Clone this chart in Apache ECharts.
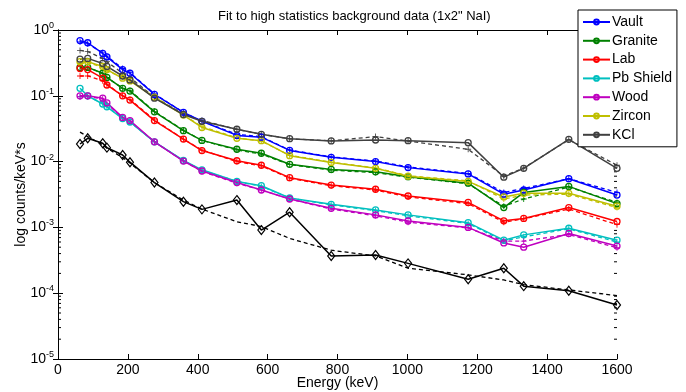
<!DOCTYPE html>
<html><head><meta charset="utf-8">
<script src="https://cdn.jsdelivr.net/npm/echarts@6/dist/echarts.min.js"></script>
<style>html,body{margin:0;padding:0;background:#fff}#c{width:686px;height:392px}</style>
</head><body><div id="c"></div>
<script>
const energies = [63, 85, 128, 140, 185, 206, 276, 359, 412, 512, 582, 663, 782, 909, 1002, 1174, 1276, 1333, 1462, 1600];

const vault      = [0.69, 0.64, 0.44, 0.39, 0.25, 0.22, 0.105, 0.056, 0.041, 0.025, 0.0235, 0.0148, 0.0116, 0.0100, 0.0081, 0.0065, 0.0032, 0.0037, 0.0055, 0.0031];
const vaultFit   = [0.66, 0.62, 0.45, 0.40, 0.26, 0.225, 0.107, 0.056, 0.041, 0.026, 0.024, 0.0150, 0.0118, 0.0102, 0.0083, 0.0066, 0.0034, 0.0039, 0.0055, 0.0034];
const granite    = [0.27, 0.27, 0.22, 0.19, 0.13, 0.118, 0.057, 0.0295, 0.021, 0.0154, 0.0134, 0.0091, 0.0076, 0.0070, 0.0059, 0.0047, 0.0020, 0.0034, 0.0042, 0.0023];
const graniteFit = [0.28, 0.27, 0.22, 0.19, 0.13, 0.12, 0.058, 0.030, 0.021, 0.0150, 0.0130, 0.0090, 0.0074, 0.0068, 0.0058, 0.0046, 0.0021, 0.0027, 0.0041, 0.0024];
const lab        = [0.26, 0.25, 0.185, 0.146, 0.10, 0.086, 0.042, 0.022, 0.0147, 0.0103, 0.0088, 0.0057, 0.0044, 0.0038, 0.0030, 0.0024, 0.00126, 0.00137, 0.0020, 0.00123];
const labFit     = [0.20, 0.20, 0.17, 0.15, 0.10, 0.088, 0.043, 0.022, 0.015, 0.0100, 0.0086, 0.0056, 0.0043, 0.0037, 0.0029, 0.0023, 0.0012, 0.00135, 0.0019, 0.0011];
const pbShield   = [0.13, 0.10, 0.075, 0.068, 0.045, 0.040, 0.020, 0.0104, 0.0075, 0.0050, 0.0043, 0.0028, 0.00224, 0.00184, 0.00155, 0.00118, 0.00064, 0.00077, 0.00097, 0.00064];
const pbShieldFit= [0.097, 0.097, 0.078, 0.068, 0.046, 0.040, 0.020, 0.0103, 0.0074, 0.0050, 0.0042, 0.0028, 0.0022, 0.0018, 0.0015, 0.00115, 0.00062, 0.00072, 0.00095, 0.00060];
const wood       = [0.10, 0.10, 0.092, 0.078, 0.047, 0.042, 0.020, 0.0102, 0.0072, 0.0048, 0.0037, 0.0027, 0.00195, 0.00155, 0.00125, 0.0010, 0.00058, 0.00050, 0.00081, 0.00052];
const woodFit    = [0.097, 0.097, 0.090, 0.076, 0.046, 0.041, 0.020, 0.0102, 0.0071, 0.0047, 0.0037, 0.0027, 0.0019, 0.0015, 0.0012, 0.00098, 0.00062, 0.00062, 0.00078, 0.00049];
const zircon     = [0.33, 0.33, 0.28, 0.25, 0.185, 0.168, 0.095, 0.051, 0.033, 0.0226, 0.0208, 0.0123, 0.0097, 0.0079, 0.0060, 0.0050, 0.0029, 0.0033, 0.0033, 0.0021];
const zirconFit  = [0.31, 0.32, 0.27, 0.24, 0.19, 0.17, 0.098, 0.051, 0.034, 0.023, 0.0205, 0.0125, 0.0098, 0.0080, 0.0061, 0.0051, 0.0027, 0.0031, 0.0032, 0.0020];
const kcl        = [0.36, 0.37, 0.31, 0.28, 0.20, 0.174, 0.092, 0.052, 0.041, 0.031, 0.026, 0.0223, 0.0206, 0.0213, 0.0208, 0.0194, 0.0058, 0.0079, 0.0218, 0.0079];
const kclFit     = [0.49, 0.47, 0.37, 0.33, 0.22, 0.19, 0.095, 0.053, 0.042, 0.031, 0.026, 0.0222, 0.0207, 0.024, 0.0205, 0.0154, 0.0060, 0.0080, 0.0215, 0.0088];
const blank      = [0.0185, 0.0226, 0.019, 0.0163, 0.0126, 0.0098, 0.0048, 0.00246, 0.00188, 0.0026, 0.00091, 0.0017, 0.000367, 0.00038, 0.000284, 0.000163, 0.00024, 0.000128, 0.000109, 0.000066];
const blankFit   = [0.028, 0.024, 0.018, 0.016, 0.0115, 0.0095, 0.0048, 0.0026, 0.0019, 0.00122, 0.00103, 0.00068, 0.00045, 0.00037, 0.00024, 0.00019, 0.000159, 0.000135, 0.000112, 0.000092];

const seriesNames = ['Vault', 'Granite', 'Lab', 'Pb Shield', 'Wood', 'Zircon', 'KCl'];
const xTickValues = [0, 200, 400, 600, 800, 1000, 1200, 1400, 1600];
const minorTickValues = [
  2e-5,3e-5,4e-5,5e-5,6e-5,7e-5,8e-5,9e-5,
  2e-4,3e-4,4e-4,5e-4,6e-4,7e-4,8e-4,9e-4,
  2e-3,3e-3,4e-3,5e-3,6e-3,7e-3,8e-3,9e-3,
  2e-2,3e-2,4e-2,5e-2,6e-2,7e-2,8e-2,9e-2,
  2e-1,3e-1,4e-1,5e-1,6e-1,7e-1,8e-1,9e-1];

const colors = ['#0000ff', '#008000', '#ff0000', '#00bfbf', '#bf00bf', '#bfbf00', '#404040'];
const dataSets = [vault, granite, lab, pbShield, wood, zircon, kcl];
const fitSets = [vaultFit, graniteFit, labFit, pbShieldFit, woodFit, zirconFit, kclFit];
const plusPath = 'path://M4.3,0H5.7V4.3H10V5.7H5.7V10H4.3V5.7H0V4.3H4.3Z';
const FONT = 'Liberation Sans, Arial, sans-serif';

function pairs(arr) { return energies.map((e, i) => [e, arr[i]]); }

const series = [];
series.push({
  name: 'minor', type: 'custom', xAxisIndex: 0, yAxisIndex: 0, silent: true, z: 1,
  data: minorTickValues.map(v => [0, v]),
  renderItem: function (params, api) {
    const v = api.value(1);
    const l = api.coord([0, v]);
    const r = api.coord([1600, v]);
    return { type: 'group', children: [
      { type: 'line', shape: { x1: l[0], y1: l[1], x2: l[0] + 3, y2: l[1] }, style: { stroke: '#000', lineWidth: 1 } },
      { type: 'line', shape: { x1: r[0], y1: r[1], x2: r[0] - 3, y2: r[1] }, style: { stroke: '#000', lineWidth: 1 } }
    ]};
  }
});
fitSets.forEach((f, i) => {
  series.push({
    name: seriesNames[i] + ' fit', type: 'line', data: pairs(f),
    symbol: plusPath, symbolSize: 6, showSymbol: true, z: 2,
    lineStyle: { color: colors[i], width: 1.3, type: [4, 3] },
    itemStyle: { color: colors[i] }, silent: true
  });
});
dataSets.forEach((d, i) => {
  series.push({
    name: seriesNames[i], type: 'line', data: pairs(d),
    symbol: 'circle', symbolSize: 6, showSymbol: true, z: 3,
    lineStyle: { color: colors[i], width: 1.5 },
    itemStyle: { color: 'rgba(255,255,255,0)', borderColor: colors[i], borderWidth: 1.3 }, silent: true
  });
});
series.push({
  name: 'blank fit', type: 'line', data: pairs(blankFit), showSymbol: false, symbol: 'none', z: 4,
  lineStyle: { color: '#000', width: 1.3, type: [4, 3] }, silent: true
});
series.push({
  name: 'blank', type: 'line', data: pairs(blank), symbol: 'diamond', symbolSize: [7, 9], showSymbol: true, z: 5,
  lineStyle: { color: '#000', width: 1.5 },
  itemStyle: { color: 'rgba(255,255,255,0)', borderColor: '#000', borderWidth: 1.2 }, silent: true
});

const axisLineStyle = { show: true, lineStyle: { color: '#000', width: 1 } };
const xBase = { type: 'value', min: 0, max: 1600, interval: 200, splitLine: { show: false },
  axisLine: axisLineStyle, axisTick: { inside: true, length: 5, lineStyle: { color: '#000' } } };
const yBase = { type: 'log', logBase: 10, min: 1e-5, max: 1, interval: 1, splitLine: { show: false },
  axisLine: axisLineStyle, axisTick: { inside: true, length: 5, lineStyle: { color: '#000' } } };

const chart = echarts.init(document.getElementById('c'), null, { renderer: 'canvas' });
chart.setOption({
  animation: false,
  backgroundColor: '#fff',
  title: { text: 'Fit to high statistics background data (1x2" NaI)', left: 213, top: 5,
    textStyle: { fontFamily: FONT, fontSize: 13, fontWeight: 'normal', color: '#000' } },
  legend: {
    data: seriesNames, orient: 'vertical', left: 578, top: 10, z: 50,
    itemWidth: 27, itemHeight: 6, itemGap: 4.8, padding: [5, 5, 5, 4],
    backgroundColor: '#fff', borderColor: '#000', borderWidth: 1,
    textStyle: { fontFamily: FONT, fontSize: 14, color: '#000', padding: [0, 0, 0, -3] },
    selectedMode: false
  },
  grid: { left: 58, right: 69, top: 30, bottom: 33, containLabel: false, outerBoundsMode: 'none' },
  xAxis: [
    Object.assign({}, xBase, { position: 'bottom', name: 'Energy (keV)', nameLocation: 'middle', nameGap: 17,
      nameMoveOverlap: false,
      nameTextStyle: { fontFamily: FONT, fontSize: 14, color: '#000' },
      axisLabel: { fontFamily: FONT, fontSize: 14, color: '#000', margin: 4,
        formatter: v => String(v) } }),
    Object.assign({}, xBase, { position: 'top', axisLabel: { show: false } })
  ],
  yAxis: [
    Object.assign({}, yBase, { position: 'left', name: 'log counts/keV*s', nameLocation: 'middle', nameGap: 30,
      nameMoveOverlap: false,
      nameTextStyle: { fontFamily: FONT, fontSize: 14, color: '#000' },
      axisLabel: { fontFamily: FONT, color: '#000', margin: 4,
        formatter: v => '{a|10}{b|' + Math.round(Math.log10(v)) + '}',
        rich: { a: { fontFamily: FONT, fontSize: 14, color: '#000' },
                b: { fontFamily: FONT, fontSize: 9, color: '#000', padding: [0, 0, 9, 0] } } } }),
    Object.assign({}, yBase, { position: 'right', axisLabel: { show: false } })
  ],
  series: series
});
</script>
</body></html>
